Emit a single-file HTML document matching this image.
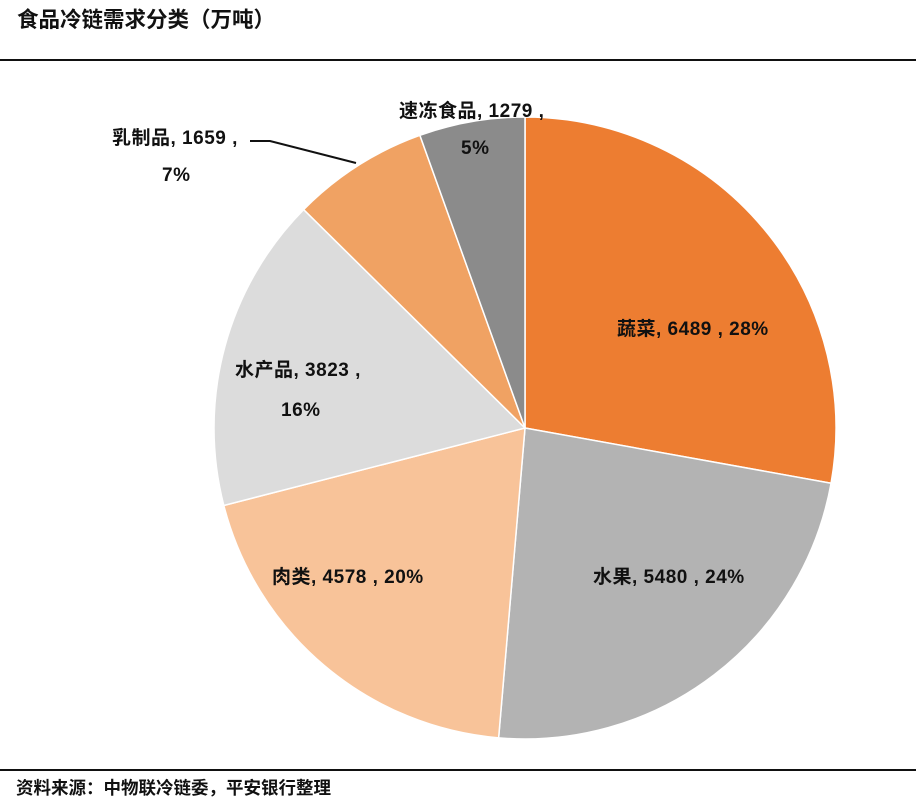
<!DOCTYPE html>
<html><head><meta charset="utf-8"><style>
body{margin:0;background:#fff;width:916px;height:804px;overflow:hidden}
text{font-family:"Liberation Sans","Noto Sans CJK SC",sans-serif;font-weight:bold;fill:#111}
.l{font-size:19px;letter-spacing:0.5px}
</style></head><body>
<svg id="s" width="916" height="804" xmlns="http://www.w3.org/2000/svg">
<text x="17" y="27" font-size="21.5">食品冷链需求分类（万吨）</text>
<rect x="0" y="59" width="916" height="2" fill="#111"/>
<rect x="0" y="769" width="916" height="2" fill="#111"/>
<text x="16" y="794" font-size="17.5">资料来源：中物联冷链委，平安银行整理</text>
<g id="pie"></g>
<polyline points="250,141 270,141 356,163" fill="none" stroke="#111" stroke-width="2"/>
<text class="l" x="112" y="144">乳制品, 1659 ,</text>
<text class="l" x="162" y="181">7%</text>
<text class="l" x="399" y="117">速冻食品, 1279 ,</text>
<text class="l" x="461" y="154">5%</text>
<text class="l" x="617" y="335">蔬菜, 6489 , 28%</text>
<text class="l" x="593" y="583">水果, 5480 , 24%</text>
<text class="l" x="272" y="583">肉类, 4578 , 20%</text>
<text class="l" x="235" y="376">水产品, 3823 ,</text>
<text class="l" x="281" y="416">16%</text>
</svg>
<script>
var d=[[6489,"#ED7D31"],[5480,"#B3B3B3"],[4578,"#F8C399"],[3823,"#DCDCDC"],[1659,"#F0A263"],[1279,"#8B8B8B"]];
var t=0;d.forEach(function(x){t+=x[0]});
var cx=525,cy=428,r=311,a=0,h="";
d.forEach(function(x){var b=a+x[0]/t*2*Math.PI;
var x1=cx+r*Math.sin(a),y1=cy-r*Math.cos(a),x2=cx+r*Math.sin(b),y2=cy-r*Math.cos(b);
h+='<path d="M'+cx+','+cy+'L'+x1+','+y1+'A'+r+','+r+' 0 '+((b-a)>Math.PI?1:0)+' 1 '+x2+','+y2+'Z" fill="'+x[1]+'" stroke="#fff" stroke-width="1.5"/>';a=b;});
document.getElementById("pie").innerHTML=h;
</script>
</body></html>
